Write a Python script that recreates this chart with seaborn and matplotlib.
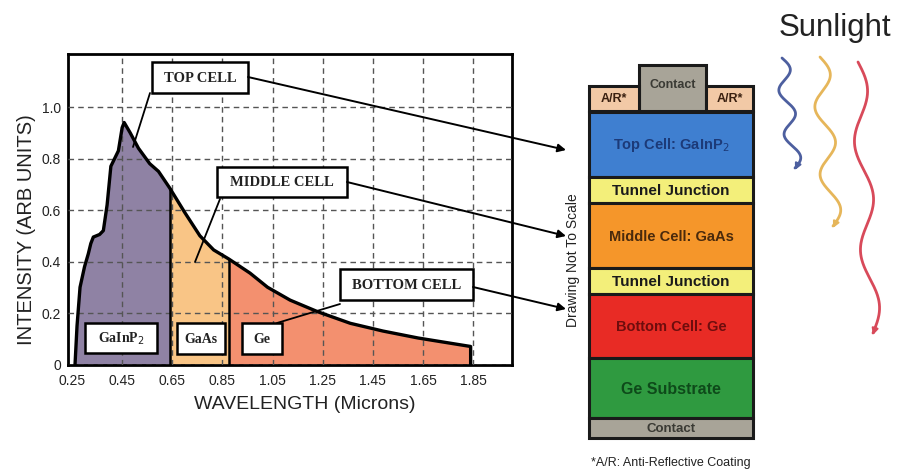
import numpy as np
import matplotlib
matplotlib.use("Agg")
import matplotlib.pyplot as plt
from matplotlib.patches import Rectangle
import seaborn as sns

# 光谱曲线
wavelength = [0.262, 0.270, 0.282, 0.300, 0.315, 0.325, 0.335, 0.360, 0.375, 0.390,
              0.405, 0.420, 0.435, 0.450, 0.458, 0.482, 0.515, 0.560, 0.595, 0.640,
              0.700, 0.760, 0.815, 0.875, 0.960, 1.030, 1.120, 1.230, 1.360, 1.490,
              1.630, 1.840, 1.840]
intensity = [0.0, 0.15, 0.30, 0.38, 0.43, 0.47, 0.495, 0.505, 0.52, 0.62,
             0.77, 0.80, 0.83, 0.92, 0.94, 0.90, 0.84, 0.78, 0.75, 0.685,
             0.59, 0.50, 0.445, 0.41, 0.355, 0.30, 0.25, 0.205, 0.16, 0.13,
             0.103, 0.07, 0.0]

# 子电池截止波长
cell_edges = [0.64, 0.875]
cell_names = ["TOP CELL", "MIDDLE CELL", "BOTTOM CELL"]
materials = ["GaInP$_2$", "GaAs", "Ge"]
fill_colors = ["#8f82a4", "#f9c586", "#f3906f"]

x_ticks = [0.25, 0.45, 0.65, 0.85, 1.05, 1.25, 1.45, 1.65, 1.85]
y_ticks = [0, 0.2, 0.4, 0.6, 0.8, 1.0]
y_tick_labels = ["0", "0.2", "0.4", "0.6", "0.8", "1.0"]

# 右侧结构示意图
layers = ["Top Cell: GaInP$_2$", "Tunnel Junction", "Middle Cell: GaAs",
          "Tunnel Junction", "Bottom Cell: Ge", "Ge Substrate", "Contact"]
layer_colors = ["#3f7fd0", "#f3ef7a", "#f5962a", "#f3ef7a", "#e82b25", "#2f9a40", "#a8a498"]
layer_text_colors = ["#1c3a78", "#1a1a1a", "#4a2a0c", "#1a1a1a", "#6e0d0d", "#0e4a1a", "#3a3a34"]

sns.set_style("white")
plt.rcParams["font.family"] = ["Liberation Sans", "DejaVu Sans"]

fig = plt.figure(figsize=(8.97, 4.74), dpi=100)
W, H = 897, 474

# ---------------- 光谱图 ----------------
ax = fig.add_axes([68 / W, 1 - 364.5 / H, 444 / W, 310.5 / H])
w = np.array(wavelength)
v = np.array(intensity)
bounds = [w[0]] + cell_edges + [w[-1]]
for i in range(3):
    lo, hi = bounds[i], bounds[i + 1]
    m = (w > lo) & (w < hi)
    xs = np.r_[lo, w[m], hi]
    ys = np.r_[np.interp(lo, w[:-1], v[:-1]), v[m], np.interp(hi, w[:-1], v[:-1])]
    ax.fill_between(xs, 0, ys, color=fill_colors[i], lw=0, zorder=2)
ax.vlines(cell_edges, 0, np.interp(cell_edges, w[:-1], v[:-1]), color="black", lw=1.8, zorder=3)
sns.lineplot(x=wavelength, y=intensity, sort=False, estimator=None, color="black", lw=2.4, ax=ax, zorder=4)

ax.set_xlim(0.234, 2.005)
ax.set_ylim(0, 1.206)
ax.set_xticks(x_ticks)
ax.set_xticklabels([f"{t:.2f}" for t in x_ticks])
ax.set_yticks(y_ticks)
ax.set_yticklabels(y_tick_labels)
ax.tick_params(length=0, labelsize=10, labelcolor="#222222")
ax.tick_params(axis="x", pad=7)
ax.tick_params(axis="y", pad=5)
ax.grid(True, ls=(0, (4, 3)), color="#555555", lw=1.0)
ax.get_xgridlines()[0].set_visible(False)
ax.set_axisbelow(False)
for s in ax.spines.values():
    s.set_color("black")
    s.set_linewidth(2)
ax.set_xlabel("WAVELENGTH (Microns)", fontsize=14, color="#222222")
ax.xaxis.set_label_coords(0.534, -0.1)
ax.set_ylabel("INTENSITY (ARB UNITS)", fontsize=14.5, color="#222222")
ax.yaxis.set_label_coords(-0.072, 0.433)

# ---------------- 叠加层（像素坐标） ----------------
ov = fig.add_axes([0, 0, 1, 1], zorder=5)
ov.set_xlim(0, W)
ov.set_ylim(H, 0)
ov.axis("off")
ov.patch.set_alpha(0)


def label_box(x0, y0, x1, y1, text, size=10.5):
    ov.add_patch(Rectangle((x0, y0), x1 - x0, y1 - y0, facecolor="white", edgecolor="black", lw=1.8))
    ov.text((x0 + x1) / 2, (y0 + y1) / 2 + 1, text, ha="center", va="center",
            family=["Liberation Serif", "DejaVu Serif"], fontweight="bold", fontsize=size, color="#222222")


cell_boxes = [(152, 62, 248, 93), (217, 167, 347, 197), (340, 269, 473, 300)]
leaders = [((150, 93), (133, 147)), ((220, 199), (195, 262)), ((340, 304), (277, 323))]
long_arrows = [((248, 77), (566, 150)), ((347, 182), (566, 236)), ((473, 287), (566, 309))]
for (bx, name, ld, la) in zip(cell_boxes, cell_names, leaders, long_arrows):
    label_box(*bx, name)
    ov.plot([ld[0][0], ld[1][0]], [ld[0][1], ld[1][1]], color="black", lw=1.3)
    ov.annotate("", xy=la[1], xytext=la[0],
                arrowprops=dict(arrowstyle="-|>", color="black", lw=1.4, mutation_scale=12,
                                shrinkA=0, shrinkB=0))

mat_boxes = [(85, 323, 157, 353), (177, 323, 225, 354), (242, 323, 282, 354)]
for bx, name in zip(mat_boxes, materials):
    label_box(*bx, name, size=10)

# 电池堆叠
x0, x1 = 589, 753
edges = [112, 177, 203, 268, 294, 358, 418, 438]
for i, name in enumerate(layers):
    ov.add_patch(Rectangle((x0, edges[i]), x1 - x0, edges[i + 1] - edges[i],
                           facecolor=layer_colors[i], edgecolor="#1a1a1a", lw=2.2))
    if name == "Tunnel Junction":
        size = 11
    elif name == "Contact":
        size = 9.5
    elif name == "Ge Substrate":
        size = 11.5
    else:
        size = 10.5
    ov.text((x0 + x1) / 2, (edges[i] + edges[i + 1]) / 2 + 1, name, ha="center", va="center",
            fontsize=size, fontweight="bold", color=layer_text_colors[i])

ov.add_patch(Rectangle((639, 65), 67, 46, facecolor="#a8a498", edgecolor="#1a1a1a", lw=2.2))
ov.text(672.5, 85, "Contact", ha="center", va="center", fontsize=9, fontweight="bold", color="#3a3a34")
for ax0, ax1 in [(589, 639), (706, 753)]:
    ov.add_patch(Rectangle((ax0, 86), ax1 - ax0, 25, facecolor="#f2c9a6", edgecolor="#1a1a1a", lw=2.2))
    ov.text((ax0 + ax1) / 2, 99, "A/R*", ha="center", va="center", fontsize=9, fontweight="bold", color="#3a2010")

ov.text(573, 260, "Drawing Not To Scale", rotation=90, ha="center", va="center", fontsize=10, color="#222222")
ov.text(671, 463, "*A/R: Anti-Reflective Coating", ha="center", va="center", fontsize=9, color="#222222")

# 阳光波浪箭头
ov.text(835, 28, "Sunlight", ha="center", va="center", fontsize=22.5, color="#222222")
waves = [((782, 58), (795, 168), 7, "#4d5f9f"),
         ((820, 57), (833, 226), 9, "#e6b65a"),
         ((858, 62), (873, 333), 8, "#d84a5a")]
t = np.linspace(0, 1, 300)
for (sx, sy), (ex, ey), amp, c in waves:
    xs = sx + t * (ex - sx) + amp * np.sin(2 * np.pi * 2.5 * t)
    ys = sy + t * (ey - sy)
    ov.plot(xs, ys, color=c, lw=2)
    ov.annotate("", xy=(xs[-1], ys[-1] + 2), xytext=(xs[-8], ys[-8]),
                arrowprops=dict(arrowstyle="-|>", color=c, lw=1.5, mutation_scale=9,
                                shrinkA=0, shrinkB=0))

fig.savefig("out.png", dpi=100)
